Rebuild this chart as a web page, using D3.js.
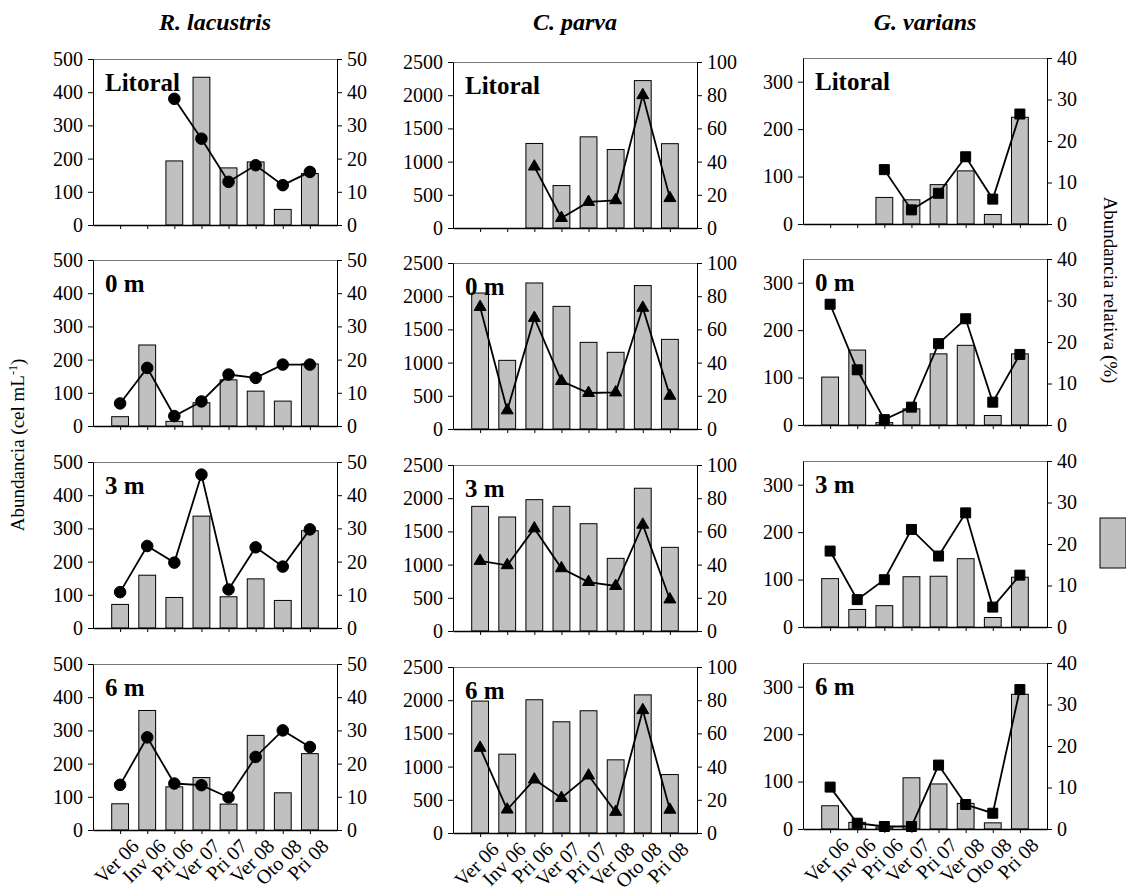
<!DOCTYPE html>
<html>
<head>
<meta charset="utf-8">
<script src="https://cdn.jsdelivr.net/npm/d3@7"></script>
<style>
  body { margin: 0; background: #fff; }
  svg { display: block; font-family: 'Liberation Serif', 'Times New Roman', serif; }
  .axis path, .axis line { stroke: #000; }
  .axis text { font-family: 'Liberation Serif', 'Times New Roman', serif; font-size: 20px; fill: #000; }
</style>
</head>
<body>
<div id="chart"></div>
<script>
// categories
const seasons = ['Ver 06', 'Inv 06', 'Pri 06', 'Ver 07', 'Pri 07', 'Ver 08', 'Oto 08', 'Pri 08']
const depths = ['Litoral', '0 m', '3 m', '6 m']
const species = ['R. lacustris', 'C. parva', 'G. varians']

// abundance (cel mL-1), one row per depth
const lacustrisAbund = [
  [null, null, 193, 445, 172, 190, 47, 155],
  [28, 244, 14, 70, 139, 105, 75, 187],
  [71, 159, 92, 337, 94, 148, 83, 293],
  [79, 360, 130, 158, 78, 285, 112, 230]
]
const parvaAbund = [
  [null, null, 1273, 639, 1373, 1182, 2220, 1270],
  [2048, 1034, 2199, 1847, 1305, 1155, 2160, 1350],
  [1877, 1717, 1978, 1877, 1616, 1094, 2150, 1260],
  [1987, 1187, 2007, 1675, 1841, 1102, 2080, 880]
]
const variansAbund = [
  [null, null, 56, 51, 83, 112, 20, 225],
  [101, 158, 5, 34, 150, 168, 20, 150],
  [102, 37, 45, 106, 107, 144, 20, 105],
  [49, 14, 4, 108, 95, 54, 13, 284]
]

// relative abundance (%)
const lacustrisRel = [
  [null, null, 38, 26, 13, 18, 12, 16],
  [6.8, 17.5, 3.0, 7.4, 15.5, 14.5, 18.5, 18.5],
  [10.8, 24.7, 19.7, 46.2, 11.6, 24.3, 18.5, 29.7],
  [13.6, 27.9, 14.0, 13.5, 9.8, 22, 30, 25]
]
const parvaRel = [
  [null, null, 37, 6, 15.7, 16.7, 80, 18],
  [73.5, 11.2, 66.9, 28.9, 21.7, 22, 73, 20],
  [42.2, 39.6, 61.8, 37.8, 29.5, 27.1, 64, 19],
  [51.3, 14.1, 32.2, 21.1, 34.6, 12.7, 74, 14]
]
const variansRel = [
  [null, null, 13.1, 3.4, 7.4, 16.2, 6, 26.5],
  [29.1, 13.3, 1.3, 4.3, 19.6, 25.6, 5.5, 17],
  [18.3, 6.6, 11.4, 23.5, 17.1, 27.5, 4.8, 12.5],
  [10.1, 1.4, 0.6, 0.6, 15.4, 5.9, 3.8, 33.6]
]

// axis settings per species column
const leftMax = [500, 2500, 350]
const leftTicks = [[0, 100, 200, 300, 400, 500], [0, 500, 1000, 1500, 2000, 2500], [0, 100, 200, 300]]
const rightMax = [50, 100, 40]
const rightTicks = [[0, 10, 20, 30, 40, 50], [0, 20, 40, 60, 80, 100], [0, 10, 20, 30, 40]]
const markers = [d3.symbolCircle, d3.symbolTriangle, d3.symbolSquare]
const markerSize = [105, 62, 100]

const abund = [lacustrisAbund, parvaAbund, variansAbund]
const rel = [lacustrisRel, parvaRel, variansRel]

const WIDTH = 1126
const HEIGHT = 895
const colLeft = [93, 453, 803]
const colShift = [0, 3, -1]
const rowTop = [59, 260, 462, 664]
const plotW = 244
const plotH = 166

const svg = d3.select('#chart')
  .append('svg')
  .attr('width', WIDTH)
  .attr('height', HEIGHT)

species.forEach(function (sp, c) {
  // column title
  svg.append('text')
    .attr('x', colLeft[c] + plotW / 2)
    .attr('y', 30)
    .attr('text-anchor', 'middle')
    .style('font-size', '24px')
    .style('font-weight', 'bold')
    .style('font-style', 'italic')
    .text(sp)

  depths.forEach(function (dep, r) {
    const g = svg.append('g')
      .attr('transform', 'translate(' + colLeft[c] + ',' + (rowTop[r] + colShift[c]) + ')')

    const x = d3.scalePoint().domain(seasons).range([0, plotW]).padding(1)
    const y = d3.scaleLinear().domain([0, leftMax[c]]).range([plotH, 0])
    const y2 = d3.scaleLinear().domain([0, rightMax[c]]).range([plotH, 0])
    const barW = x.step() * 0.62

    // top border
    g.append('line')
      .attr('x1', 0).attr('x2', plotW)
      .attr('y1', 0.5).attr('y2', 0.5)
      .attr('stroke', '#777')

    const bars = seasons.map((s, i) => ({ s: s, v: abund[c][r][i] })).filter(d => d.v !== null)
    g.selectAll('rect')
      .data(bars)
      .enter()
      .append('rect')
      .attr('x', d => x(d.s) - barW / 2)
      .attr('y', d => y(d.v))
      .attr('width', barW)
      .attr('height', d => plotH - y(d.v))
      .attr('fill', '#c0c0c0')
      .attr('stroke', '#000')
      .attr('stroke-width', 1)

    // relative abundance line
    const pts = seasons.map((s, i) => ({ s: s, v: rel[c][r][i] })).filter(d => d.v !== null)
    g.append('path')
      .datum(pts)
      .attr('fill', 'none')
      .attr('stroke', '#000')
      .attr('stroke-width', 1.8)
      .attr('d', d3.line().x(d => x(d.s)).y(d => y2(d.v)))

    const sym = d3.symbol().type(markers[c]).size(markerSize[c])
    g.selectAll('.mk')
      .data(pts)
      .enter()
      .append('path')
      .attr('class', 'mk')
      .attr('transform', d => 'translate(' + x(d.s) + ',' + y2(d.v) + ')')
      .attr('d', sym)
      .attr('fill', '#000')
      .attr('stroke', '#000')
      .attr('stroke-width', 1)

    // axes
    g.append('g')
      .attr('class', 'axis')
      .call(d3.axisLeft(y).tickValues(leftTicks[c]).tickSize(5).tickSizeOuter(0).tickFormat(d3.format('d')))
      .call(a => a.selectAll('text').attr('dx', '-2'))

    g.append('g')
      .attr('class', 'axis')
      .attr('transform', 'translate(' + plotW + ',0)')
      .call(d3.axisRight(y2).tickValues(rightTicks[c]).tickSize(5).tickSizeOuter(0).tickFormat(d3.format('d')))
      .call(a => a.selectAll('text').attr('dx', '2'))

    const xa = g.append('g')
      .attr('class', 'axis')
      .attr('transform', 'translate(0,' + plotH + ')')
      .call(d3.axisBottom(x).tickSize(4).tickSizeOuter(0).tickFormat(r === 3 ? null : ''))
    xa.select('.domain').attr('stroke-width', 1.5)
    if (r === 3) {
      xa.selectAll('text')
        .attr('text-anchor', 'end')
        .attr('transform', 'translate(6,4) rotate(-45)')
        .attr('dx', 0)
        .attr('dy', '0.6em')
    }

    // depth label
    g.append('text')
      .attr('x', 12)
      .attr('y', 32)
      .style('font-size', '25px')
      .style('font-weight', 'bold')
      .text(dep)
  })
})

// axis titles
const yTitle = svg.append('text')
  .attr('transform', 'translate(24,' + 445 + ') rotate(-90)')
  .attr('text-anchor', 'middle')
  .style('font-size', '19px')
yTitle.append('tspan').text('Abundancia (cel mL')
yTitle.append('tspan')
  .attr('dy', -7)
  .style('font-size', '12px')
  .text('-1')
yTitle.append('tspan')
  .attr('dy', 7)
  .text(')')

svg.append('text')
  .attr('transform', 'translate(1104,' + 290 + ') rotate(90)')
  .attr('text-anchor', 'middle')
  .style('font-size', '19px')
  .text('Abundancia relativa (%)')

// legend swatch for bars
svg.append('rect')
  .attr('x', 1100)
  .attr('y', 518)
  .attr('width', 26)
  .attr('height', 50)
  .attr('fill', '#c0c0c0')
  .attr('stroke', '#000')
</script>
</body>
</html>
